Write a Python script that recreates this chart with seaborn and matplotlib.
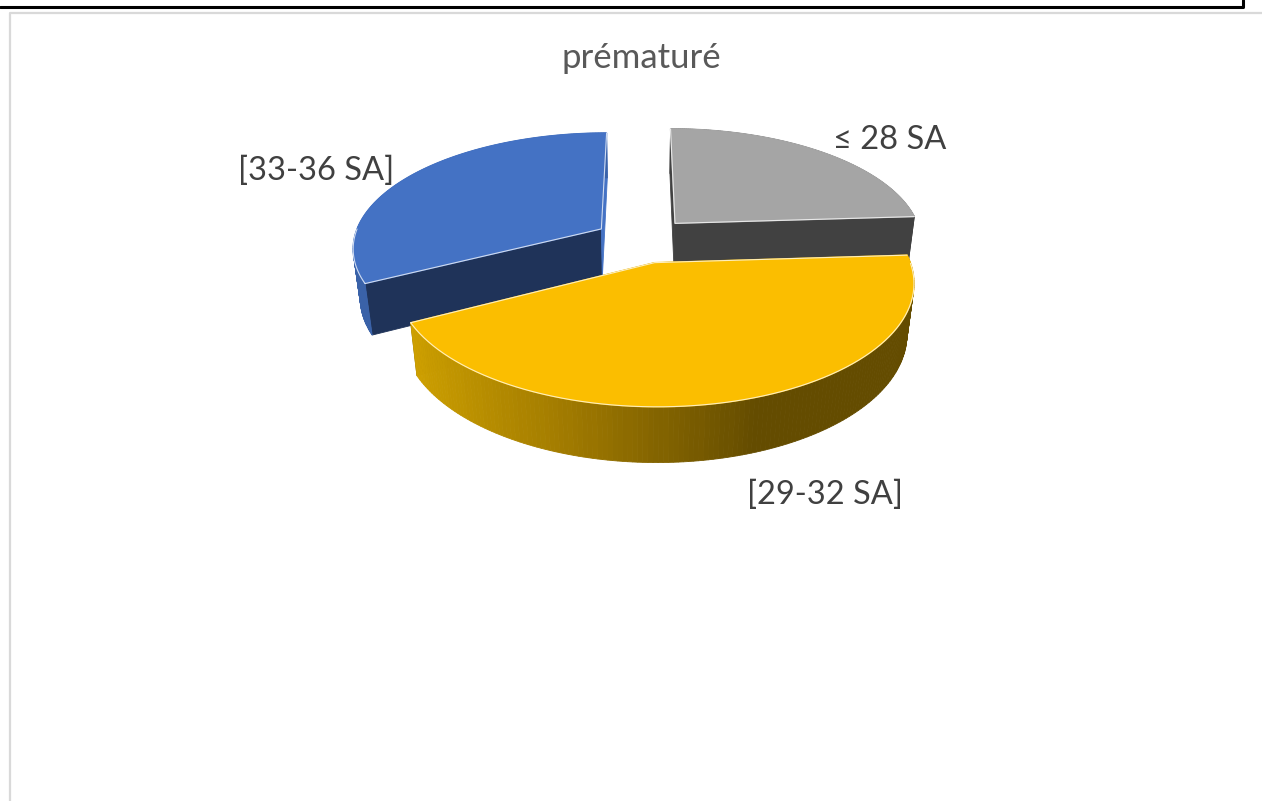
import numpy as np
import matplotlib
matplotlib.use('Agg')
import matplotlib.pyplot as plt
import seaborn as sns

# valeurs (%)
labels = ['≤ 28 SA', '[29-32 SA]', '[33-36 SA]']
values = [24, 43.4, 32.6]
title = 'prématuré'

top_colors = ['#a5a5a5', '#fbbe00', '#4472c4']
cut_colors = ['#414141', '#7f6000', '#1f3359']
rim_colors = [['#414141', '#414141'],
              ['#d6a700', '#a37c00', '#644c00', '#644c00'],
              ['#3a62a8', '#3a62a8']]
explode = [0.205, 0.2, 0.19]
label_pos = [(890, 140), (825, 495), (316, 171)]

sns.set_theme(style='white')
plt.rcParams['font.family'] = ['Lato', 'DejaVu Sans']

# vue en perspective
cx, y0 = 641, 240
A, B, D = 248, 114, 51
k, m = 0.155, 0.025


def proj(X, Y, Z=0.0):
    s = 1 / (1 + k * Y + m * Z)
    return cx + A * X * s, y0 - B * Y * s + D * Z * s


def quad(X0, Y0, X1, Y1, color):
    xa, ya = proj(X0, Y0)
    xb, yb = proj(X1, Y1)
    xc, yc = proj(X1, Y1, 1)
    xd, yd = proj(X0, Y0, 1)
    ax.fill([xa, xb, xc, xd], [ya, yb, yc, yd], color=color, lw=0.6)


fig = plt.figure(figsize=(12.62, 8.01), dpi=100)
ax = fig.add_axes([0, 0, 1, 1])
ax.set_xlim(0, 1262)
ax.set_ylim(801, 0)
ax.axis('off')

# cadres autour du graphique
ax.plot([0, 1243, 1243], [7, 7, 0], color='black', lw=2.2)
ax.plot([9.5, 9.5, 1262], [801, 12.5, 12.5], color='#d9d9d9', lw=1.6)

# angles dans le sens horaire depuis midi
edges = np.concatenate([[0], np.cumsum(values)]) / np.sum(values) * 2 * np.pi

for i in [0, 2, 1]:
    a0, a1 = edges[i], edges[i + 1]
    mid = (a0 + a1) / 2
    ex, ey = explode[i] * np.sin(mid), explode[i] * np.cos(mid)
    t = np.linspace(a0, a1, 160)
    X, Y = ex + np.sin(t), ey + np.cos(t)

    # faces coupées
    quad(ex, ey, X[0], Y[0], cut_colors[i])
    side = top_colors[2] if i == 2 else cut_colors[i]
    quad(ex, ey, X[-1], Y[-1], side)

    # bord extérieur, dégradé de gauche à droite
    ramp = sns.blend_palette(rim_colors[i], 101)
    for j in range(len(t) - 1):
        pos = (np.sin(t[j]) + 1) / 2
        quad(X[j], Y[j], X[j + 1], Y[j + 1], ramp[int(pos * 100)])

    # dessus de la part
    px, py = proj(np.r_[ex, X], np.r_[ey, Y])
    ax.fill(px, py, color=top_colors[i], lw=1)

    # liseré clair sur les arêtes visibles
    xs, ys = proj(np.r_[X[0], ex, X[-1]], np.r_[Y[0], ey, Y[-1]])
    ax.plot(xs, ys, color='white', lw=0.8, alpha=0.75)
    front = np.cos(t) < 0
    if front.any():
        xa, ya = proj(X[front], Y[front])
        ax.plot(xa, ya, color='white', lw=0.8, alpha=0.75)

for name, (x, y) in zip(labels, label_pos):
    ax.text(x, y, name, fontsize=23.5, color='#404040', ha='center', va='center')
ax.text(641, 58, title, fontsize=25, color='#595959', ha='center', va='center')

fig.savefig('out.png', dpi=100)
